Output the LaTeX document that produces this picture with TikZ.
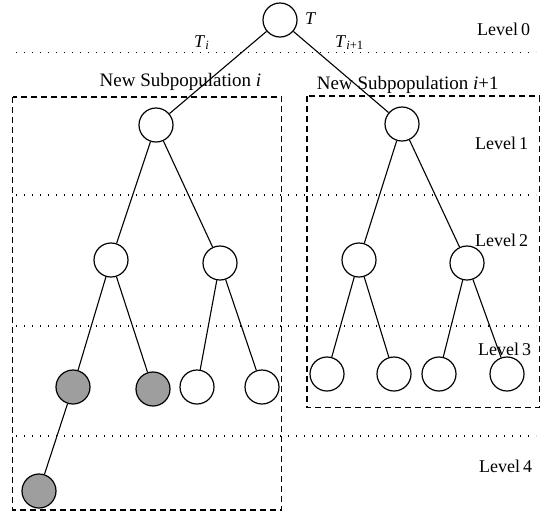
\documentclass[tikz,border=0pt]{standalone}
\usepackage{fontspec}
\setmainfont{Liberation Serif}
\begin{document}
\begin{tikzpicture}[x=1pt,y=-1pt,
  tn/.style={circle,draw,line width=1.2pt,minimum size=34pt,inner sep=0pt,fill=white},
  sh/.style={tn,fill=black!38},
  edge/.style={line width=1.1pt},
  box/.style={line width=1.4pt,dash pattern=on 6pt off 4pt},
  lvl/.style={line width=1.3pt,dash pattern=on 1.3pt off 6.7pt},
  lab/.style={font=\fontsize{18}{20}\selectfont,inner sep=0pt},
  sub/.style={font=\fontsize{19}{21}\selectfont,inner sep=0pt}]
\useasboundingbox (0,0) rectangle (548,512);
% level separators
\draw[lvl] (16,52.7) -- (536,52.7);
\draw[lvl] (16,195) -- (536,195);
\draw[lvl] (16,326) -- (536,326);
\draw[lvl] (16,436) -- (536,436);
% subpopulation boxes
\draw[box] (12.7,97) rectangle (281.7,510);
\draw[box] (307,96) rectangle (539.5,407.7);
% nodes
\node[tn] (root) at (280,20) {};
\node[tn] (L) at (156,125) {};
\node[tn] (R) at (402,124) {};
\node[tn] (LL) at (111,260) {};
\node[tn] (LR) at (220,263) {};
\node[tn] (RL) at (359,260) {};
\node[tn] (RR) at (467,263) {};
\node[sh] (s1) at (73,387) {};
\node[sh] (s2) at (153,389) {};
\node[tn] (w1) at (197,387) {};
\node[tn] (w2) at (262,387) {};
\node[tn] (r1) at (327,374) {};
\node[tn] (r2) at (394,374) {};
\node[tn] (r3) at (439,374) {};
\node[tn] (r4) at (507,374) {};
\node[sh] (s4) at (39,491) {};
% edges
\draw[edge] (root) -- (L);
\draw[edge] (root) -- (R);
\draw[edge] (L) -- (LL);
\draw[edge] (L) -- (LR);
\draw[edge] (R) -- (RL);
\draw[edge] (R) -- (RR);
\draw[edge] (LL) -- (s1);
\draw[edge] (LL) -- (s2);
\draw[edge] (LR) -- (w1);
\draw[edge] (LR) -- (w2);
\draw[edge] (RL) -- (r1);
\draw[edge] (RL) -- (r2);
\draw[edge] (RR) -- (r3);
\draw[edge] (RR) -- (r4);
\draw[edge] (s1) -- (s4);
% labels
\node[lab,anchor=base west] (tT) at (305,24) {\textit{T}};
\node[lab,anchor=base west] (tTi) at (194,47) {\textit{T}\textsubscript{\textit{i}}};
\node[lab,anchor=base west] (tTi1) at (335,47) {\textit{T}\textsubscript{\textit{i}+1}};
\node[sub,anchor=base west] (subi) at (99.5,86) {New Subpopulation \textit{i}};
\node[sub,anchor=base west] (subi1) at (316.7,89) {New Subpopulation \textit{i}+1};
\node[lab,anchor=base west] (l0) at (477,35) {Level\,0};
\node[lab,anchor=base west] (l1) at (475,149) {Level\,1};
\node[lab,anchor=base west] (l2) at (475,246.7) {Level\,2};
\node[lab,anchor=base west] (l3) at (478,355) {Level\,3};
\node[lab,anchor=base west] (l4) at (479,472) {Level\,4};
\end{tikzpicture}
\end{document}
